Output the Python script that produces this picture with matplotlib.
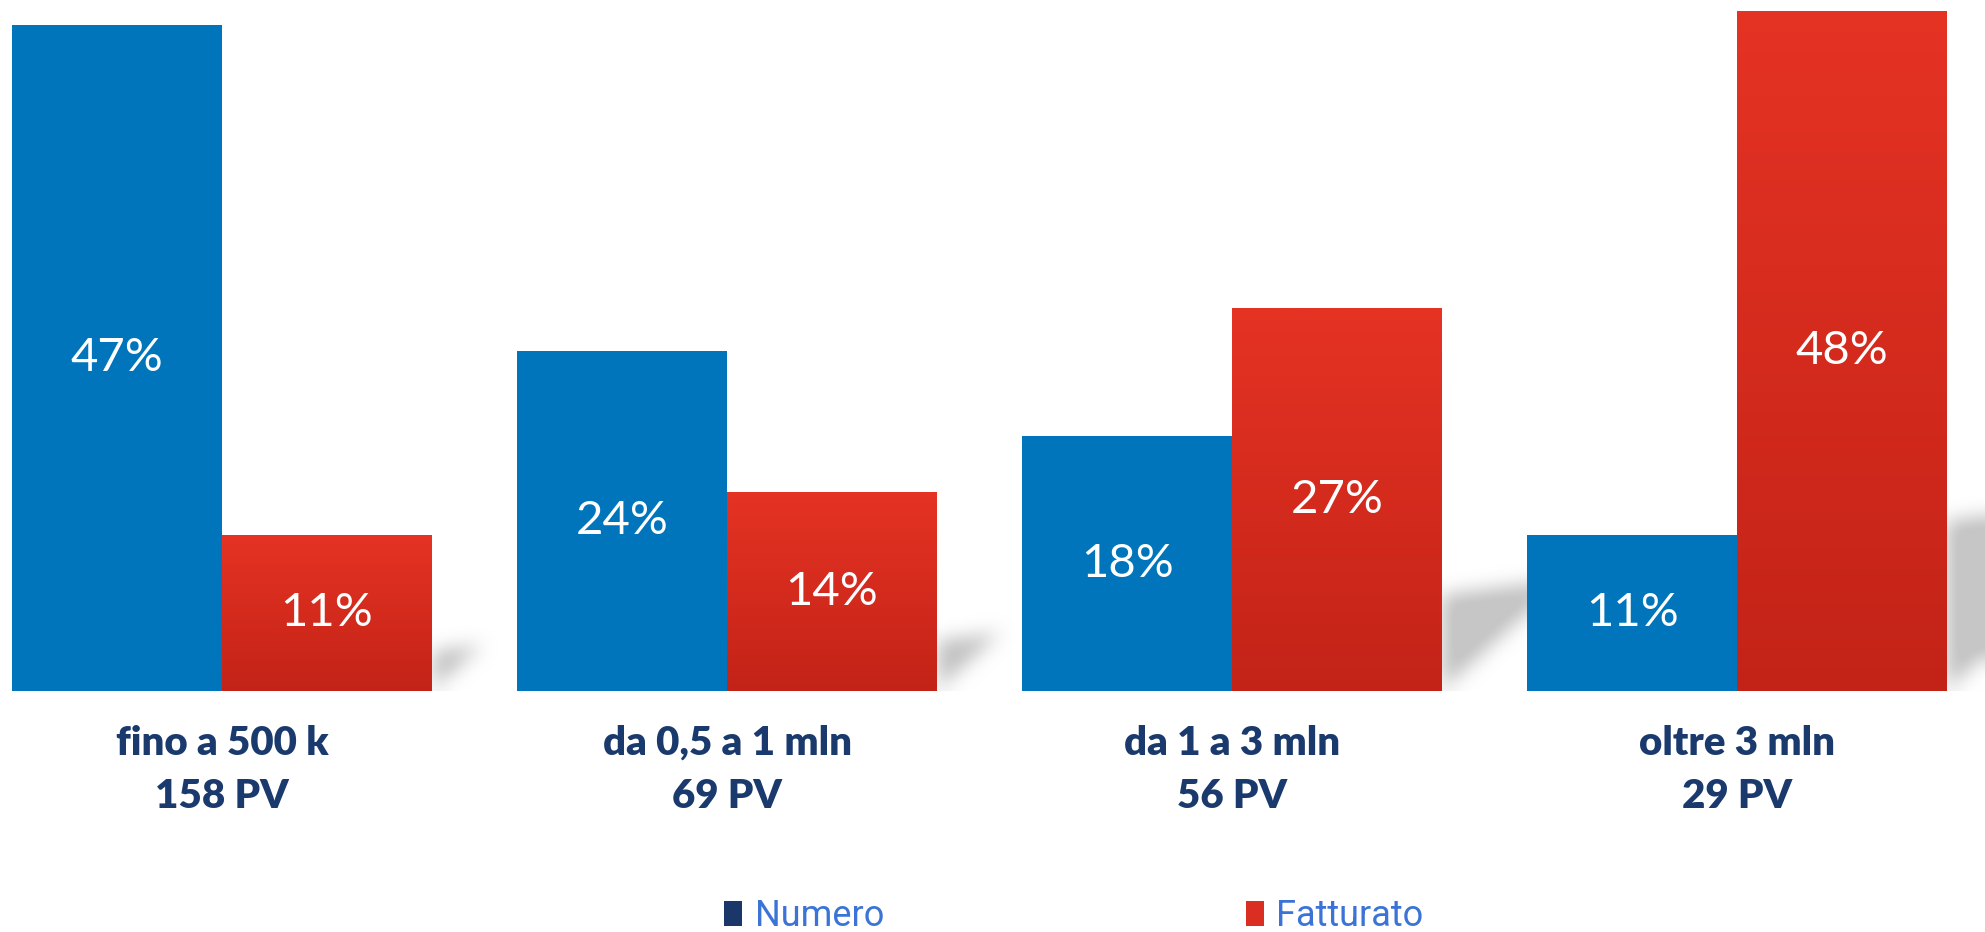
import matplotlib.pyplot as plt
from matplotlib.patches import Patch
import numpy as np

categorie = ['fino a 500 k\n158 PV', 'da 0,5 a 1 mln\n69 PV',
             'da 1 a 3 mln\n56 PV', 'oltre 3 mln\n29 PV']
numero = [47, 24, 18, 11]
fatturato = [11, 14, 27, 48]
serie = ['Numero', 'Fatturato']

blu = '#0075BC'
rosso_alto = np.array([229, 51, 36]) / 255
rosso_basso = np.array([195, 35, 23]) / 255
navy = '#1A3A6E'
blu_legenda = '#3B74D6'

W, H = 1985, 932
fig = plt.figure(figsize=(W / 100, H / 100), dpi=100)
ax = fig.add_axes([0, 241 / H, 1, 691 / H])
x0, x1 = -222 / 505, (W - 222) / 505
y1 = 48.8
ax.set_xlim(x0, x1)
ax.set_ylim(0, y1)
ax.axis('off')

w = 0.415
x = np.arange(len(categorie))

# ombra sfumata dietro le barre rosse
nx, ny = 1000, 350
gx = np.linspace(x0, x1, nx)
gy = np.linspace(0, y1, ny)
XX, YY = np.meshgrid(gx, gy)
mask = np.zeros_like(XX)
k = (505 / 14.16)  # conversione unita' y -> x


def lato(px, py, qx, qy):
    return (qx - px) * (YY - py) - (qy - py) * (XX - px)


for xi, h in zip(x, fatturato):
    xr = xi + w
    ax_, ay = xr, 0
    bx, by = xr, 0.25 * h
    cx, cy = xr + 0.32 * h / k, 0.29 * h
    d1 = lato(ax_, ay, bx, by)
    d2 = lato(bx, by, cx, cy)
    d3 = lato(cx, cy, ax_, ay)
    dentro = ((d1 >= 0) & (d2 >= 0) & (d3 >= 0)) | ((d1 <= 0) & (d2 <= 0) & (d3 <= 0))
    mask[dentro] = 1


def sfuma(a, r, asse):
    c = np.cumsum(np.pad(a, [(r + 1, r) if i == asse else (0, 0) for i in range(2)], mode='edge'), axis=asse)
    if asse == 0:
        return (c[2 * r + 1:] - c[:-2 * r - 1]) / (2 * r + 1)
    return (c[:, 2 * r + 1:] - c[:, :-2 * r - 1]) / (2 * r + 1)


for _ in range(3):
    mask = sfuma(mask, 4, 0)
    mask = sfuma(mask, 4, 1)
ombra = np.zeros((ny, nx, 4))
ombra[..., :3] = 0.78
ombra[..., 3] = np.clip(mask * 1.1, 0, 1)
ax.imshow(ombra, extent=[x0, x1, 0, y1], origin='lower', aspect='auto', zorder=0)

ax.bar(x - w / 2, numero, width=w, color=blu, zorder=2)
barre = ax.bar(x + w / 2, fatturato, width=w, color=rosso_alto, zorder=2)

# gradiente sulle barre rosse
t = np.linspace(0, 1, 256)[:, None]
grad = (rosso_basso[None, :] * (1 - t) + rosso_alto[None, :] * t)[:, None, :]
for b in barre:
    ax.imshow(grad, extent=[b.get_x(), b.get_x() + b.get_width(), 0, b.get_height()],
              origin='lower', aspect='auto', zorder=3)
ax.set_xlim(x0, x1)
ax.set_ylim(0, y1)

for xi, n, f in zip(x, numero, fatturato):
    ax.text(xi - w / 2, n / 2, f'{n}%', ha='center', va='center', color='white',
            fontsize=34, family='Lato', zorder=4)
    ax.text(xi + w / 2, f / 2, f'{f}%', ha='center', va='center', color='white',
            fontsize=34, family='Lato', zorder=4)
    ax.text(xi, -2.4, categorie[xi], ha='center', va='top', color=navy,
            fontsize=29, family='Lato', fontweight='heavy', linespacing=1.55)

handles = [Patch(facecolor='#1B3668'), Patch(facecolor='#DB2E22')]
fig.legend(handles, serie, loc='center', bbox_to_anchor=(1074 / W, 16 / H),
           ncol=2, frameon=False, labelcolor=blu_legenda,
           prop={'family': ['Liberation Sans Narrow', 'Roboto'], 'size': 26},
           handlelength=0.5, handleheight=0.7, handletextpad=0.35,
           columnspacing=10)

fig.savefig('out.png', dpi=100)
